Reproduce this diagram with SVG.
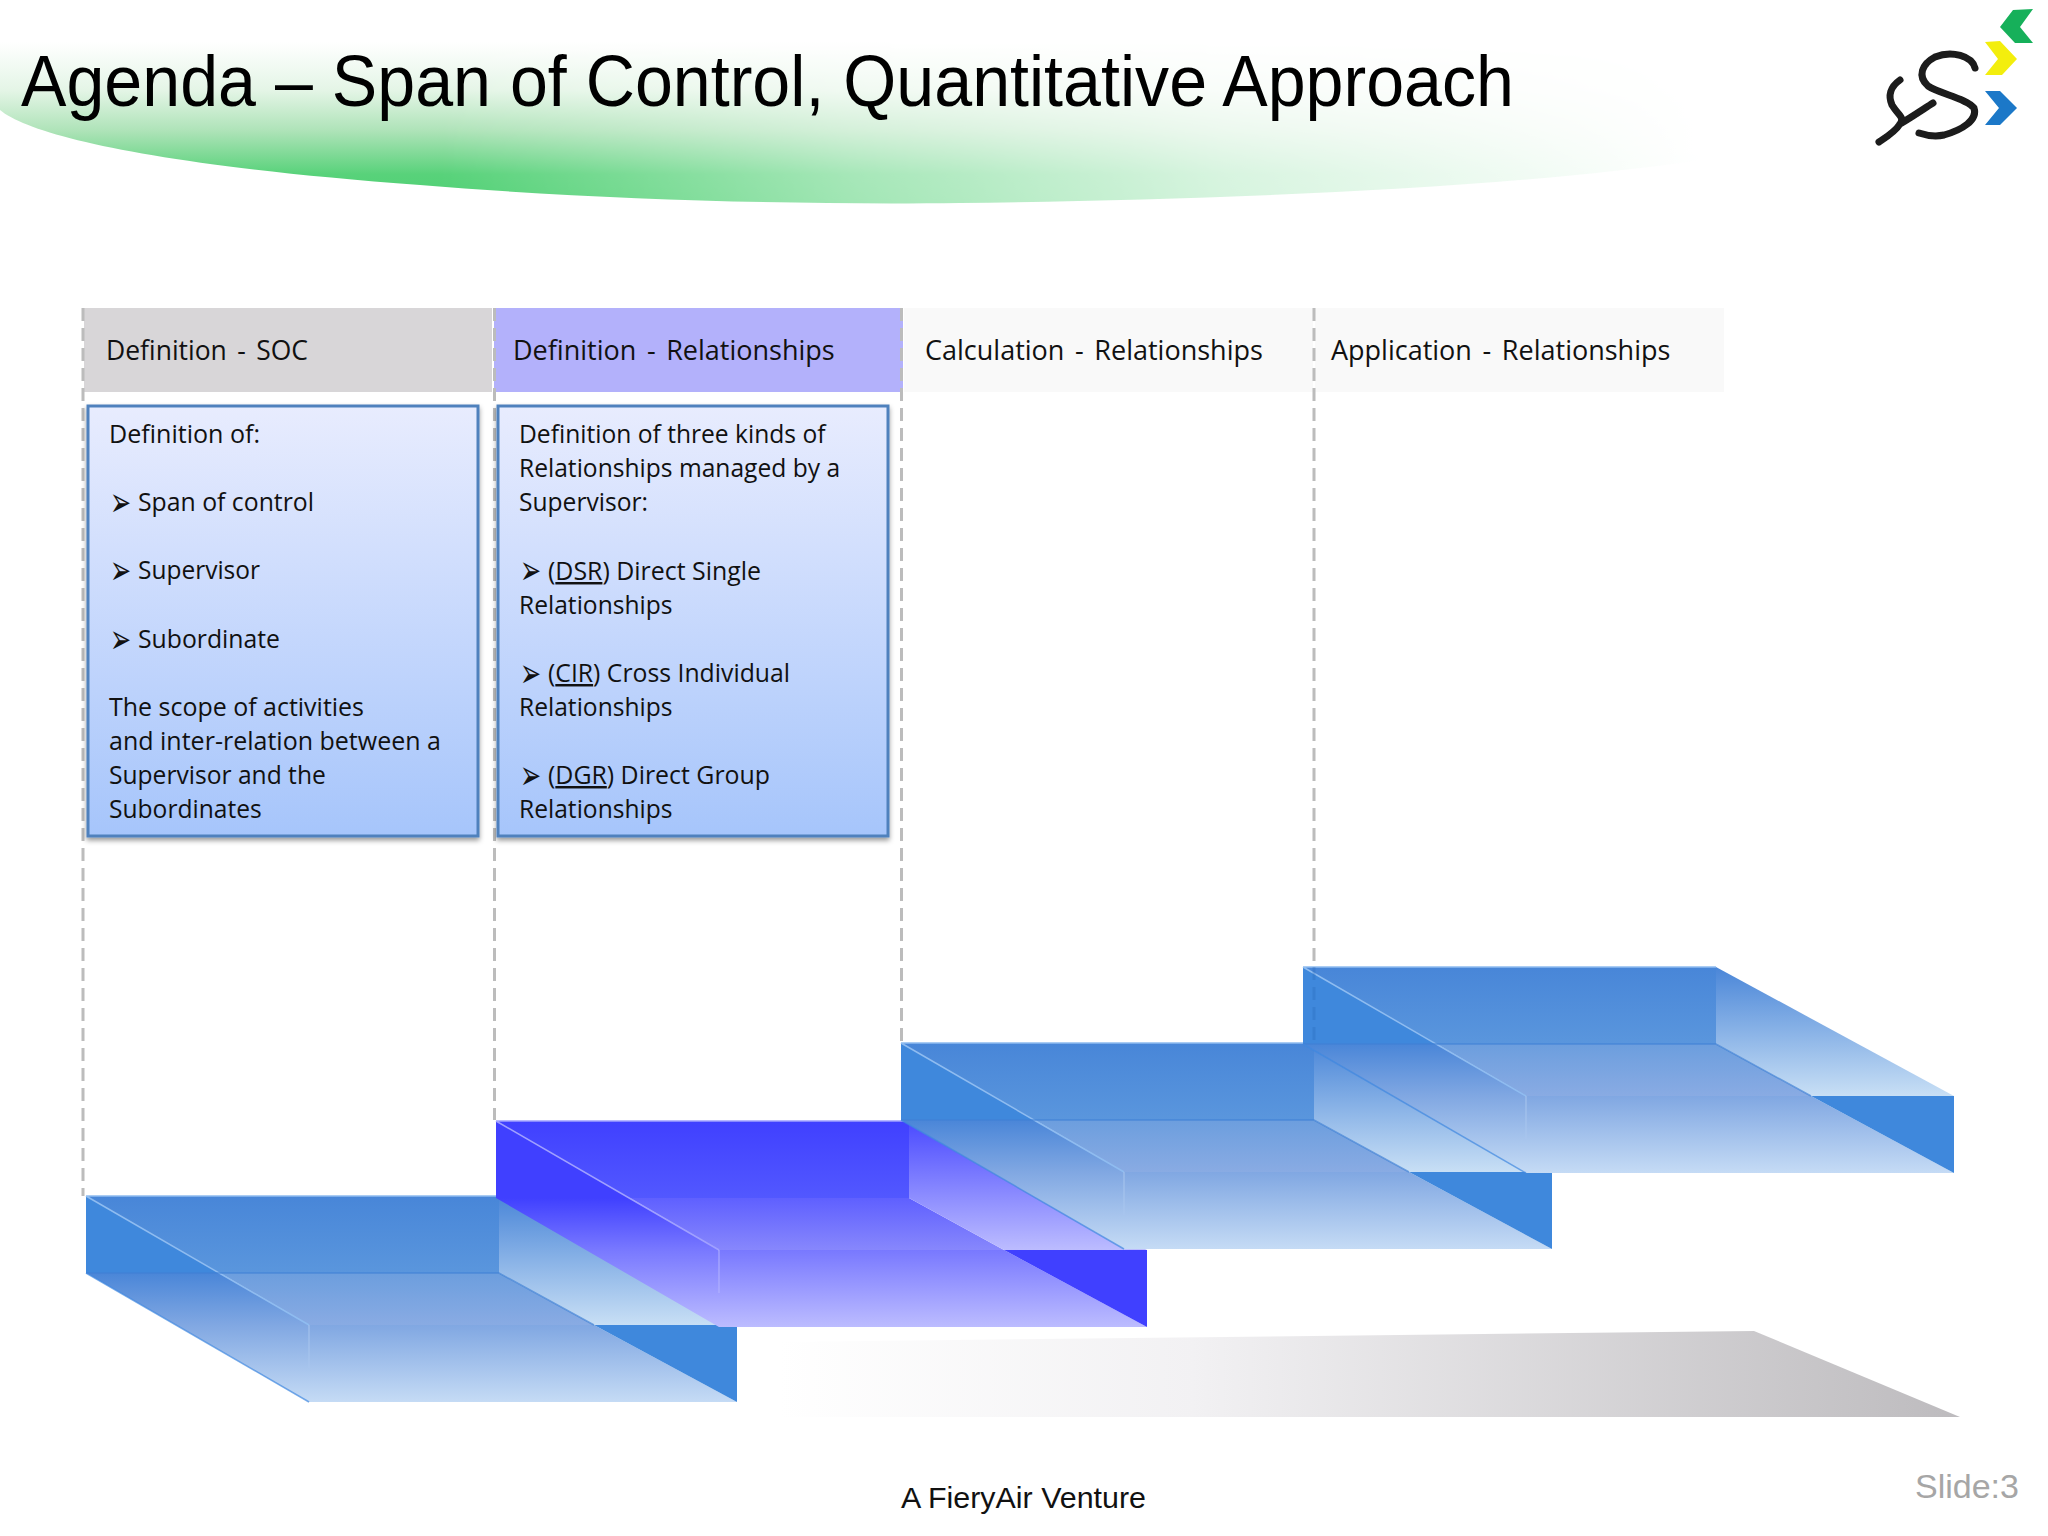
<svg xmlns="http://www.w3.org/2000/svg" width="2048" height="1536" viewBox="0 0 2048 1536">
<style>
.t{font-family:"Open Sans","Noto Sans",sans-serif;font-size:24.6px;fill:#111}
.h{font-family:"Open Sans","Noto Sans",sans-serif;font-size:27px;fill:#111;word-spacing:-1.7px}
.b{font-family:"DejaVu Sans",sans-serif;font-size:24px;fill:#111}
.d{fill:none;stroke:#bcbcbc;stroke-width:3;stroke-dasharray:13 7}
.u{text-decoration:underline}
</style>
<defs>
<linearGradient id="sw" x1="0" y1="0" x2="0" y2="1"><stop offset="0" stop-color="#fff"/><stop offset=".3" stop-color="#e4f5e6"/><stop offset=".55" stop-color="#aee3b8"/><stop offset=".82" stop-color="#58d27a"/><stop offset="1" stop-color="#4fd073"/></linearGradient>
<linearGradient id="swm" gradientUnits="userSpaceOnUse" x1="0" y1="0" x2="1700" y2="0"><stop offset="0" stop-color="#fff"/><stop offset=".26" stop-color="#fff"/><stop offset=".38" stop-color="#c4c4c4"/><stop offset=".5" stop-color="#888"/><stop offset=".72" stop-color="#3c3c3c"/><stop offset="1" stop-color="#000"/></linearGradient>
<mask id="swmask" maskUnits="userSpaceOnUse" x="0" y="0" width="1800" height="260"><rect width="1800" height="260" fill="url(#swm)"/></mask>
<linearGradient id="card" x1="0" y1="0" x2="0" y2="1"><stop offset="0" stop-color="#e8ecfe"/><stop offset="1" stop-color="#a6c5fb"/></linearGradient>
<linearGradient id="gray" x1="0" y1="0" x2="1" y2="0"><stop offset="0" stop-color="#fff"/><stop offset=".35" stop-color="#f2f1f3"/><stop offset="1" stop-color="#bdbbbe"/></linearGradient>
<filter id="sh" x="-5%" y="-5%" width="110%" height="110%"><feDropShadow dx="0" dy="3" stdDeviation="2.5" flood-color="#000" flood-opacity=".4"/></filter>
<filter id="soft"><feGaussianBlur stdDeviation=".7"/></filter>
<linearGradient id="b1" gradientUnits="userSpaceOnUse" x1="0" y1="0" x2="0" y2="77"><stop offset="0" stop-color="#4886d8"/><stop offset="1" stop-color="#5a96dd"/></linearGradient>
<linearGradient id="b2" gradientUnits="userSpaceOnUse" x1="0" y1="77" x2="0" y2="129"><stop offset="0" stop-color="#6c9ede"/><stop offset="1" stop-color="#89abe3"/></linearGradient>
<linearGradient id="b3" gradientUnits="userSpaceOnUse" x1="0" y1="77" x2="0" y2="206"><stop offset="0" stop-color="#4a86d8"/><stop offset=".4" stop-color="#80a7e2"/><stop offset="1" stop-color="#c5dbf5"/></linearGradient>
<linearGradient id="b5" gradientUnits="userSpaceOnUse" x1="0" y1="0" x2="0" y2="129"><stop offset="0" stop-color="#4a86d8"/><stop offset="1" stop-color="#c8dff5"/></linearGradient>
<linearGradient id="p1" gradientUnits="userSpaceOnUse" x1="0" y1="0" x2="0" y2="77"><stop offset="0" stop-color="#4040ff"/><stop offset="1" stop-color="#5258ff"/></linearGradient>
<linearGradient id="p2" gradientUnits="userSpaceOnUse" x1="0" y1="77" x2="0" y2="129"><stop offset="0" stop-color="#5f60ff"/><stop offset="1" stop-color="#8787fc"/></linearGradient>
<linearGradient id="p3" gradientUnits="userSpaceOnUse" x1="0" y1="77" x2="0" y2="206"><stop offset="0" stop-color="#4040ff"/><stop offset=".4" stop-color="#7878ff"/><stop offset="1" stop-color="#bcbcff"/></linearGradient>
<linearGradient id="p5" gradientUnits="userSpaceOnUse" x1="0" y1="0" x2="0" y2="129"><stop offset="0" stop-color="#4a4aff"/><stop offset="1" stop-color="#bcbcff"/></linearGradient>
<g id="blue">
<rect width="413" height="77" fill="url(#b1)"/>
<polygon points="0,0 134,77 0,77" fill="#3f88dc"/>
<polygon points="134,77 413,77 508,129 223,129" fill="url(#b2)"/>
<polygon points="0,77 134,77 223,129 508,129 651,206 223,206" fill="url(#b3)"/>
<polygon points="413,0 651,129 508,129 413,77" fill="url(#b5)"/>
<polygon points="508,129 651,129 651,206" fill="#3f88dc"/>
<path d="M0,0L223,129M0,0H413" fill="none" stroke="#8fbcf0" stroke-width="1.5"/>
<path d="M0,77H413L508,129" fill="none" stroke="#3f80d4" stroke-width="1.5" opacity=".7"/>
<path d="M0,77L223,206" fill="none" stroke="#3f88e0" stroke-width="1.5" opacity=".7"/>
<path d="M223,129V172" stroke="#a9c6ee" stroke-width="1"/>
</g>
<g id="purple">
<rect width="413" height="77" fill="url(#p1)"/>
<polygon points="0,0 134,77 0,77" fill="#4040ff"/>
<polygon points="134,77 413,77 508,129 223,129" fill="url(#p2)"/>
<polygon points="0,77 134,77 223,129 508,129 651,206 223,206" fill="url(#p3)"/>
<polygon points="413,0 651,129 508,129 413,77" fill="url(#p5)"/>
<polygon points="508,129 651,129 651,206" fill="#4040ff"/>
<path d="M0,0L223,129M0,0H413" fill="none" stroke="#a0a0ff" stroke-width="1.5"/>
<path d="M223,129V172" stroke="#b4b4ff" stroke-width="1"/>
</g>
</defs>
<rect width="2048" height="1536" fill="#fff"/>
<g id="title">
<path d="M0,42H1720L1700,160C1500,190 1200,200 960,203C800,205 600,200 420,185C150,165 30,135 0,110Z" fill="url(#sw)" mask="url(#swmask)"/>
<text x="21" y="106" font-family="'Liberation Sans',Arial,sans-serif" font-size="72" textLength="1493" lengthAdjust="spacingAndGlyphs" fill="#000">Agenda – Span of Control, Quantitative Approach</text>
</g>
<g id="logo">
<g filter="url(#soft)">
<polygon points="2033,9 2013,10 2000,27 2015,43 2033,43 2020,27" fill="#16b05a"/>
<polygon points="1985,42 2000,41 2017,59 2002,75 1985,75 1998,59" fill="#f3ee10"/>
<polygon points="1985,91 2000,91 2017,108 2000,125 1985,125 1999,108" fill="#1a78c8"/>
<path d="M1975,68C1972,56 1952,50 1935,57C1922,64 1917,76 1928,86C1940,94 1966,98 1974,108C1978,120 1962,130 1944,135C1935,137 1925,135 1919,133" fill="none" stroke="#1a1a1a" stroke-width="7" stroke-linecap="round"/>
<path d="M1900,80C1890,87 1888,96 1892,105C1898,115 1905,117 1900,124C1895,132 1885,138 1879,142M1900,124C1915,115 1925,108 1933,103" fill="none" stroke="#1a1a1a" stroke-width="7" stroke-linecap="round"/>
</g>
</g>
<g id="bar"><polygon points="780,1342 1754,1331 1960,1417 780,1417" fill="url(#gray)"/></g>
<g id="header-1"><rect x="84" y="308" width="408" height="84" fill="#d8d6d8"/><text class="h" x="106" y="360" xml:space="preserve" textLength="202" lengthAdjust="spacingAndGlyphs">Definition  -  SOC</text></g>
<g id="header-2"><rect x="494" y="308" width="409" height="84" fill="#b3b1fb"/><text class="h" x="513" y="360" xml:space="preserve">Definition  -  Relationships</text></g>
<g id="header-3"><rect x="904" y="308" width="409" height="84" fill="#f9f9f9"/><text class="h" x="925" y="360" xml:space="preserve">Calculation  -  Relationships</text></g>
<g id="header-4"><rect x="1315" y="308" width="409" height="84" fill="#f9f9f9"/><text class="h" x="1331" y="360" xml:space="preserve">Application  -  Relationships</text></g>
<g id="connectors">
<path class="d" d="M83,308V1196"/>
<path class="d" d="M494.500,308V1120"/>
<path class="d" d="M901.500,308V1042"/>
<path class="d" d="M1314,308V967"/>
</g>
<g id="card-1">
<rect x="88" y="406" width="390" height="430" fill="url(#card)" stroke="#4f81bd" stroke-width="3" filter="url(#sh)"/>
<text class="t" x="109" y="443" textLength="151" lengthAdjust="spacingAndGlyphs">Definition of:</text>
<text class="b" transform="translate(110,516) scale(1.05,1.7)">➢</text><text class="t" x="138" y="511" textLength="176" lengthAdjust="spacingAndGlyphs">Span of control</text>
<text class="b" transform="translate(110,584) scale(1.05,1.7)">➢</text><text class="t" x="138" y="579" textLength="122" lengthAdjust="spacingAndGlyphs">Supervisor</text>
<text class="b" transform="translate(110,653) scale(1.05,1.7)">➢</text><text class="t" x="138" y="648" textLength="142" lengthAdjust="spacingAndGlyphs">Subordinate</text>
<text class="t" x="109" y="716" textLength="255" lengthAdjust="spacingAndGlyphs">The scope of activities</text>
<text class="t" x="109" y="750" textLength="332" lengthAdjust="spacingAndGlyphs">and inter-relation between a</text>
<text class="t" x="109" y="784">Supervisor and the</text>
<text class="t" x="109" y="818">Subordinates</text>
</g>
<g id="card-2">
<rect x="498" y="406" width="390" height="430" fill="url(#card)" stroke="#4f81bd" stroke-width="3" filter="url(#sh)"/>
<text class="t" x="519" y="443">Definition of three kinds of</text>
<text class="t" x="519" y="477">Relationships managed by a</text>
<text class="t" x="519" y="511">Supervisor:</text>
<text class="b" transform="translate(520,584) scale(1.05,1.7)">➢</text><text class="t" x="548" y="580" textLength="213" lengthAdjust="spacingAndGlyphs">(<tspan class="u">DSR</tspan>) Direct Single</text>
<text class="t" x="519" y="614">Relationships</text>
<text class="b" transform="translate(520,687) scale(1.05,1.7)">➢</text><text class="t" x="548" y="682" textLength="242" lengthAdjust="spacingAndGlyphs">(<tspan class="u">CIR</tspan>) Cross Individual</text>
<text class="t" x="519" y="716">Relationships</text>
<text class="b" transform="translate(520,789) scale(1.05,1.7)">➢</text><text class="t" x="548" y="784" textLength="222" lengthAdjust="spacingAndGlyphs">(<tspan class="u">DGR</tspan>) Direct Group</text>
<text class="t" x="519" y="818">Relationships</text>
</g>
<g id="step-1"><use href="#blue" transform="translate(86,1196)"/></g>
<g id="step-2"><use href="#purple" transform="translate(496,1121)"/></g>
<g id="step-3"><use href="#blue" transform="translate(901,1043)"/></g>
<g id="step-4"><use href="#blue" transform="translate(1303,967)"/></g>
<path class="d" d="M1314,967V1043" opacity=".25" style="stroke:#1f5fb0"/>
<g id="footer">
<text x="901" y="1508" font-family="'Liberation Sans',Arial,sans-serif" font-size="30.400" fill="#111">A FieryAir Venture</text>
<text x="1915" y="1498" font-family="'Liberation Sans',Arial,sans-serif" font-size="34" fill="#a6a6a6">Slide:3</text>
</g>
</svg>
